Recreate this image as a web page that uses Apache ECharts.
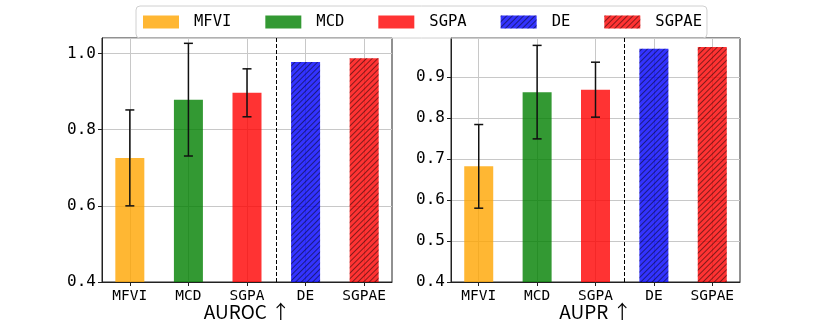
<!DOCTYPE html>
<html>
<head>
<meta charset="utf-8">
<script src="https://cdn.jsdelivr.net/npm/echarts@6/dist/echarts.min.js"></script>
<style>
  html, body { margin: 0; padding: 0; background: #fff; }
  #main { width: 822px; height: 323px; }
</style>
</head>
<body>
<div id="main"></div>
<script>
// data
var methods = ['MFVI', 'MCD', 'SGPA', 'DE', 'SGPAE']
var aurocMean = [0.726, 0.879, 0.897, 0.978, 0.988]
var aurocStd = [0.126, 0.148, 0.063, null, null]
var auprMean = [0.682, 0.863, 0.869, 0.969, 0.973]
var auprStd = [0.102, 0.114, 0.067, null, null]
var splitAt = 2.5 // single models | ensembles

var colors = ['#FFA500', '#008000', '#FF0000', '#0000FF', '#FF0000']
var hatched = [false, false, false, true, true]

var FONT = 'DejaVu Sans Mono'
var hatch = {
  symbol: 'rect',
  symbolSize: 1,
  dashArrayX: [1, 0],
  dashArrayY: [1, 3],
  rotation: -Math.PI / 4,
  color: 'rgba(0,0,0,0.6)'
}

function xAxisFor(idx, name) {
  return {
    type: 'value',
    gridIndex: idx,
    min: -0.475,
    max: 4.475,
    splitNumber: 5,
    name: name,
    nameLocation: 'middle',
    nameGap: 20,
    nameMoveOverlap: false,
    nameTextStyle: { fontFamily: 'Noto Sans CJK SC', fontSize: 19, color: '#000' },
    axisLine: { show: true, onZero: false, lineStyle: { color: '#222' } },
    axisTick: { show: true, length: 4, customValues: [0, 1, 2, 3, 4], lineStyle: { color: '#222' } },
    axisLabel: {
      customValues: [0, 1, 2, 3, 4],
      margin: 7,
      fontFamily: FONT,
      fontSize: 14.5,
      color: '#000',
      formatter: function (v) { return methods[Math.round(v)] }
    },
    splitLine: { show: true, lineStyle: { color: '#c8c8c8', width: 1 } }
  }
}

function yAxisFor(idx, max, interval) {
  return {
    type: 'value',
    gridIndex: idx,
    min: 0.4,
    max: max,
    interval: interval,
    axisLine: { show: true, onZero: false, lineStyle: { color: '#222' } },
    axisTick: { show: true, length: 4, lineStyle: { color: '#222' } },
    axisLabel: {
      margin: 6,
      fontFamily: FONT,
      fontSize: 16,
      color: '#000',
      showMaxLabel: false,
      formatter: function (v) { return v.toFixed(1) }
    },
    splitLine: { show: true, lineStyle: { color: '#c8c8c8', width: 1 } }
  }
}

function barSeries(idx, means) {
  return methods.map(function (m, i) {
    var s = {
      name: m,
      type: 'bar',
      xAxisIndex: idx,
      yAxisIndex: idx,
      barWidth: 29,
      barGap: '-100%',
      itemStyle: { color: colors[i], opacity: 0.8 },
      data: [[i, means[i]]]
    }
    if (hatched[i]) s.itemStyle.decal = hatch
    if (i === 0) {
      s.markLine = {
        silent: true,
        symbol: 'none',
        label: { show: false },
        lineStyle: { color: '#000', type: [4, 2], width: 1 },
        data: [{ xAxis: splitAt }]
      }
    }
    return s
  })
}

function errSeries(idx, means, stds) {
  var d = []
  means.forEach(function (v, i) {
    if (stds[i] != null) d.push([i, v - stds[i], v + stds[i]])
  })
  return {
    type: 'custom',
    xAxisIndex: idx,
    yAxisIndex: idx,
    z: 10,
    silent: true,
    renderItem: function (params, api) {
      var lo = api.coord([api.value(0), api.value(1)])
      var hi = api.coord([api.value(0), api.value(2)])
      var w = 4.5
      var st = { stroke: '#111', lineWidth: 1.5 }
      return {
        type: 'group',
        children: [
          { type: 'line', shape: { x1: lo[0], y1: lo[1], x2: hi[0], y2: hi[1] }, style: st },
          { type: 'line', shape: { x1: lo[0] - w, y1: lo[1], x2: lo[0] + w, y2: lo[1] }, style: st },
          { type: 'line', shape: { x1: hi[0] - w, y1: hi[1], x2: hi[0] + w, y2: hi[1] }, style: st }
        ]
      }
    },
    data: d
  }
}

var chart = echarts.init(document.getElementById('main'))
chart.setOption({
  animation: false,
  legend: {
    data: methods,
    left: 136,
    top: 6,
    padding: [8, 5, 8, 7],
    icon: 'rect',
    itemWidth: 36,
    itemHeight: 13,
    itemGap: 34,
    borderColor: '#d0d0d0',
    borderWidth: 1,
    borderRadius: 4,
    textStyle: { fontFamily: FONT, fontSize: 15.5, color: '#000', padding: [0, 0, 0, 10] }
  },
  grid: [
    { left: 102, right: 430, top: 38, bottom: 41, outerBoundsMode: 'none', show: true, borderColor: '#222', borderWidth: 1 },
    { left: 451, right: 82, top: 38, bottom: 41, outerBoundsMode: 'none', show: true, borderColor: '#222', borderWidth: 1 }
  ],
  xAxis: [xAxisFor(0, 'AUROC ↑'), xAxisFor(1, 'AUPR ↑')],
  yAxis: [yAxisFor(0, 1.041, 0.2), yAxisFor(1, 0.995, 0.1)],
  series: [].concat(
    barSeries(0, aurocMean),
    barSeries(1, auprMean),
    [errSeries(0, aurocMean, aurocStd), errSeries(1, auprMean, auprStd)]
  )
})
</script>
</body>
</html>
